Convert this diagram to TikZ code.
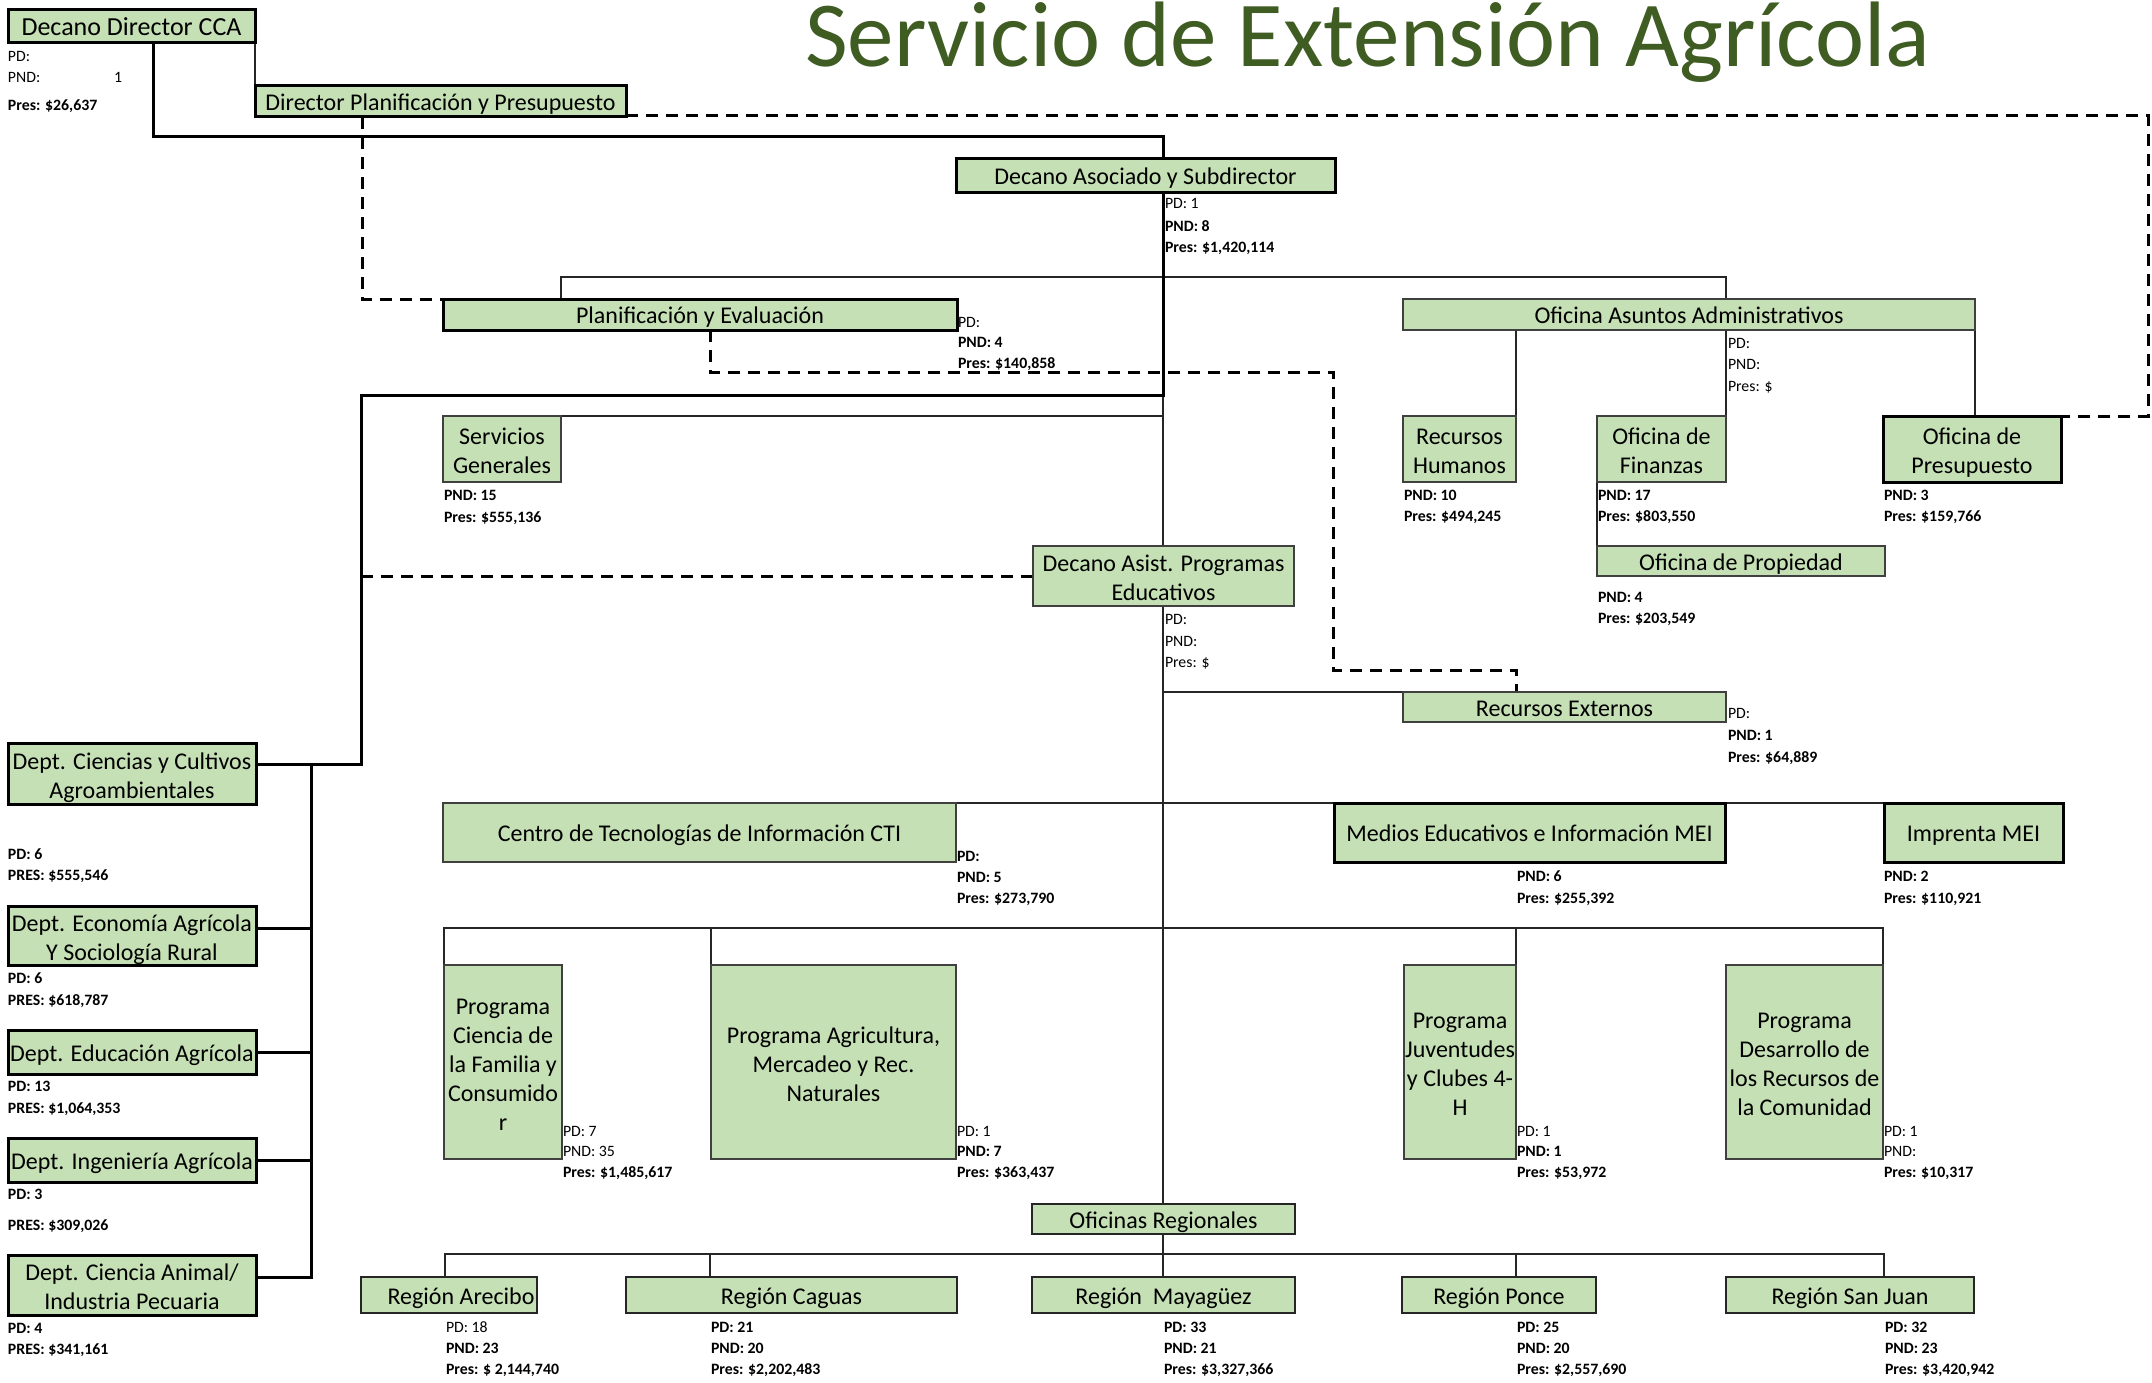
\documentclass[tikz,border=0pt]{standalone}
\usepackage{fontspec}
\setmainfont{Carlito}
\definecolor{boxgreen}{RGB}{197,224,180}
\definecolor{titlegreen}{RGB}{63,92,35}
\definecolor{thinborder}{RGB}{64,64,64}
\pgfdeclarelayer{bg}
\pgfsetlayers{bg,main}
\newcounter{labn}
\newcommand\lr[3]{\stepcounter{labn}\node[lab,anchor=base west] (L\arabic{labn}) at (#1,#2+5) {#3};}
\newcommand\lbd[3]{\stepcounter{labn}\node[labb,anchor=base west] (L\arabic{labn}) at (#1,#2+5) {#3};}
\newcommand\ml[1]{\raisebox{-4.5pt}[\height][\depth]{\begin{tabular}{@{}c@{}}#1\end{tabular}}}
\tikzset{
 lab/.style={inner sep=0pt, outer sep=0pt, font=\fontsize{15.8}{19}\selectfont},
 labb/.style={inner sep=0pt, outer sep=0pt, font=\fontsize{15.8}{19}\selectfont\bfseries},
 box/.style={draw=thinborder, line width=1.5pt, fill=boxgreen, inner sep=0pt, outer sep=0pt, align=center, font=\fontsize{24}{29}\selectfont, execute at begin node={\rule[-6pt]{0pt}{30pt}}},
 tbox/.style={box, draw=black, line width=3pt},
 mbox/.style={box, draw=black!85, line width=2pt},
 thk/.style={line width=3pt, black, line cap=rect},
 thn/.style={line width=1.5pt, black!85},
 dsh/.style={line width=3pt, black, dash pattern=on 12pt off 8pt},
}
\begin{document}
\begin{tikzpicture}[x=1pt,y=-1pt]
\useasboundingbox (0,0) rectangle (2152,1383);
% title
\node[anchor=base west, inner sep=0pt, text=titlegreen, font=\fontsize{93}{110}\selectfont] (title) at (805,67) {Servicio de Extensión Agrícola};
% boxes
\node[tbox, minimum width=247pt, minimum height=33pt, font=\fontsize{26}{30}\selectfont] (dd) at (131.5,26.5) {Decano Director CCA};
\node[tbox, minimum width=371pt, minimum height=31pt] (dp) at (440.5,101.5) {Director Planificación y Presupuesto};
\node[tbox, minimum width=379pt, minimum height=34pt] (da) at (1145.5,176) {Decano Asociado y Subdirector};
\node[tbox, minimum width=514pt, minimum height=31pt] (pe) at (700,314.5) {Planificación y Evaluación};
\node[box, minimum width=572pt, minimum height=31pt] (oaa) at (1689,314.5) {Oficina Asuntos Administrativos};
\node[box, minimum width=113pt, minimum height=66pt] (rh) at (1459.5,449) {\ml{Recursos\\Humanos}};
\node[box, minimum width=129pt, minimum height=66pt] (fin) at (1661.5,449) {\ml{Oficina de\\Finanzas}};
\node[tbox, minimum width=178pt, minimum height=66pt] (pres) at (1972,449) {\ml{Oficina de\\Presupuesto}};
\node[box, minimum width=288pt, minimum height=30pt] (prop) at (1741,561) {Oficina de Propiedad};
\node[box, minimum width=118pt, minimum height=66pt] (sg) at (502,449) {\ml{Servicios\\Generales}};
\node[box, minimum width=261pt, minimum height=60pt] (dae) at (1163.5,576) {\ml{Decano Asist. Programas\\Educativos}};
\node[box, minimum width=323pt, minimum height=30pt] (re) at (1564.5,707) {Recursos Externos};
\node[box, minimum width=513pt, minimum height=59pt] (cti) at (699.5,832.5) {Centro de Tecnologías de Información CTI};
\node[tbox, minimum width=391pt, minimum height=59pt] (mei) at (1529.5,832.5) {Medios Educativos e Información MEI};
\node[tbox, minimum width=179pt, minimum height=59pt] (imp) at (1973.5,832.5) {Imprenta MEI};
\node[box, minimum width=118pt, minimum height=194pt] (pcf) at (503,1062) {\ml{Programa\\Ciencia de\\la Familia y\\Consumido\\r}};
\node[box, minimum width=245pt, minimum height=194pt] (pam) at (833.5,1062) {\ml{Programa Agricultura,\\Mercadeo y Rec.\\Naturales}};
\node[box, minimum width=112pt, minimum height=194pt] (pjc) at (1460,1062) {\ml{Programa\\Juventudes\\y Clubes 4-\\H}};
\node[box, minimum width=157pt, minimum height=194pt] (pdr) at (1804.5,1062) {\ml{Programa\\Desarrollo de\\los Recursos de\\la Comunidad}};
\node[mbox, minimum width=263pt, minimum height=30pt] (or) at (1163.5,1219) {Oficinas Regionales};
\node[mbox, minimum width=176pt, minimum height=36pt] (rar) at (449,1295) {\hspace*{24pt}Región Arecibo};
\node[mbox, minimum width=331pt, minimum height=36pt] (rca) at (791.5,1295) {Región Caguas};
\node[mbox, minimum width=263pt, minimum height=36pt] (rma) at (1163.5,1295) {Región\ \ Mayagüez};
\node[mbox, minimum width=194pt, minimum height=36pt] (rpo) at (1499,1295) {Región Ponce};
\node[mbox, minimum width=248pt, minimum height=36pt] (rsj) at (1850,1295) {Región San Juan};
\node[tbox, minimum width=248pt, minimum height=61pt] (d1) at (132,773.5) {\ml{Dept. Ciencias y Cultivos\\Agroambientales}};
\node[tbox, minimum width=248pt, minimum height=59pt] (d2) at (132,935.5) {\ml{Dept. Economía Agrícola\\Y Sociología Rural}};
\node[tbox, minimum width=248pt, minimum height=44pt] (d3) at (132,1052) {Dept. Educación Agrícola};
\node[tbox, minimum width=248pt, minimum height=44pt] (d4) at (132,1160) {Dept. Ingeniería Agrícola};
\node[tbox, minimum width=248pt, minimum height=60pt] (d5) at (132,1285) {\ml{Dept. Ciencia Animal/\\Industria Pecuaria}};
% labels
\lr{8}{57}{PD:}
\lr{8}{78}{PND:}
\lr{114}{78}{1}
\lbd{8}{106}{Pres: \$26,637}
\lr{1165}{204}{PD: 1}
\lbd{1165}{227}{PND: 8}
\lbd{1165}{247}{Pres: \$1,420,114}
\lr{958}{322}{PD:}
\lbd{958}{342}{PND: 4}
\lbd{958}{363}{Pres: \$140,858}
\lr{1728}{343}{PD:}
\lr{1728}{364}{PND:}
\lr{1728}{386}{Pres: \$}
\lbd{1404}{495}{PND: 10}
\lbd{1404}{516}{Pres: \$494,245}
\lbd{1598}{495}{PND: 17}
\lbd{1598}{516}{Pres: \$803,550}
\lbd{1884}{495}{PND: 3}
\lbd{1884}{516}{Pres: \$159,766}
\lbd{1598}{597}{PND: 4}
\lbd{1598}{618}{Pres: \$203,549}
\lbd{444}{495}{PND: 15}
\lbd{444}{517}{Pres: \$555,136}
\lr{1165}{619}{PD:}
\lr{1165}{641}{PND:}
\lr{1165}{662}{Pres: \$}
\lr{1728}{713}{PD:}
\lbd{1728}{735}{PND: 1}
\lbd{1728}{757}{Pres: \$64,889}
\lbd{957}{856}{PD:}
\lbd{957}{877}{PND: 5}
\lbd{957}{898}{Pres: \$273,790}
\lbd{1517}{876}{PND: 6}
\lbd{1517}{898}{Pres: \$255,392}
\lbd{1884}{876}{PND: 2}
\lbd{1884}{898}{Pres: \$110,921}
\lr{563}{1131}{PD: 7}
\lr{563}{1151}{PND: 35}
\lbd{563}{1172}{Pres: \$1,485,617}
\lr{957}{1131}{PD: 1}
\lbd{957}{1151}{PND: 7}
\lbd{957}{1172}{Pres: \$363,437}
\lr{1517}{1131}{PD: 1}
\lbd{1517}{1151}{PND: 1}
\lbd{1517}{1172}{Pres: \$53,972}
\lr{1884}{1131}{PD: 1}
\lr{1884}{1151}{PND:}
\lbd{1884}{1172}{Pres: \$10,317}
\lr{446}{1327}{PD: 18}
\lbd{446}{1348}{PND: 23}
\lbd{446}{1369}{Pres: \$ 2,144,740}
\lbd{711}{1327}{PD: 21}
\lbd{711}{1348}{PND: 20}
\lbd{711}{1369}{Pres: \$2,202,483}
\lbd{1164}{1327}{PD: 33}
\lbd{1164}{1348}{PND: 21}
\lbd{1164}{1369}{Pres: \$3,327,366}
\lbd{1517}{1327}{PD: 25}
\lbd{1517}{1348}{PND: 20}
\lbd{1517}{1369}{Pres: \$2,557,690}
\lbd{1885}{1327}{PD: 32}
\lbd{1885}{1348}{PND: 23}
\lbd{1885}{1369}{Pres: \$3,420,942}
\lbd{8}{854}{PD: 6}
\lbd{8}{875}{PRES: \$555,546}
\lbd{8}{978}{PD: 6}
\lbd{8}{1000}{PRES: \$618,787}
\lbd{8}{1086}{PD: 13}
\lbd{8}{1108}{PRES: \$1,064,353}
\lbd{8}{1194}{PD: 3}
\lbd{8}{1225}{PRES: \$309,026}
\lbd{8}{1328}{PD: 4}
\lbd{8}{1349}{PRES: \$341,161}
% connectors
\begin{pgfonlayer}{bg}
\fill[white] (0,0) rectangle (2152,1383);
\coordinate (j1) at (1163,137);
\coordinate (k1) at (1163,395);
\coordinate (k2) at (361,395);
\coordinate (k3) at (361,764);
\coordinate (t1) at (311,764);
\coordinate (t5) at (311,1277);
\coordinate (tr) at (1163,0);
\coordinate (q1) at (1726,277);
\coordinate (e2) at (2148,416);
\coordinate (m1) at (1333,372);
\coordinate (m2) at (1516,670);
% thin
\draw[thn] (dd.south east) -- (dp.north west);
\draw[thn] ([xshift=207pt]da.south west) -- (or.north -| tr);
\draw[thn] (or.south -| tr) -- (rma.north -| tr);
\draw[thn] ([xshift=118pt]pe.north west) |- (q1) -- ([xshift=323pt]oaa.north west);
\draw[thn] ([xshift=113pt]oaa.south west) -- (rh.north east);
\draw[thn] ([xshift=323pt]oaa.south west) -- (fin.north east);
\draw[thn] (oaa.south east) -- (oaa.south east |- pres.north);
\draw[thn] (fin.south west) -- (prop.north west);
\draw[thn] (sg.north east) -- (sg.north east -| tr);
\draw[thn] (re.north west) -- (re.north west -| tr);
\draw[thn] (cti.north west) -- (imp.north east);
\draw[thn] (pcf.north west) -- ++(0,-37) -| (pdr.north east);
\draw[thn] (pam.north west) -- ++(0,-37);
\draw[thn] (pjc.north east) -- ++(0,-37);
\draw[thn] ([xshift=84pt]rar.north west) -- ++(0,-23) -| ([xshift=158pt]rsj.north west);
\draw[thn] ([xshift=84pt]rca.north west) -- ++(0,-23);
\draw[thn] ([xshift=114pt]rpo.north west) -- ++(0,-23);
% thick
\draw[thk] ([xshift=145pt]dd.south west) |- (j1) -- ([xshift=207pt]da.north west);
\draw[thk] ([xshift=207pt]da.south west) -- (k1) -- (k2) -- (k3) -- ([yshift=-21pt]d1.north east);
\draw[thk] (t1) -- (t5);
\draw[thk] ([yshift=-22pt]d2.north east) -- ++(55,0);
\draw[thk] (d3.east) -- (d3.east -| t1);
\draw[thk] (d4.east) -- (d4.east -| t1);
\draw[thk] ([yshift=-22pt]d5.north east) -- ++(55,0);
% dashed
\draw[dsh] ([yshift=1pt]dp.south east) -| (e2) -- (pres.north east);
\draw[dsh] ([xshift=107pt]dp.south west) |- (pe.north west);
\draw[dsh] ([xshift=267pt]pe.south west) |- (m1) |- (m2) -- ([xshift=113pt]re.north west);
\draw[dsh] (dae.west) -- (dae.west -| k2);
\end{pgfonlayer}
\end{tikzpicture}
\end{document}
